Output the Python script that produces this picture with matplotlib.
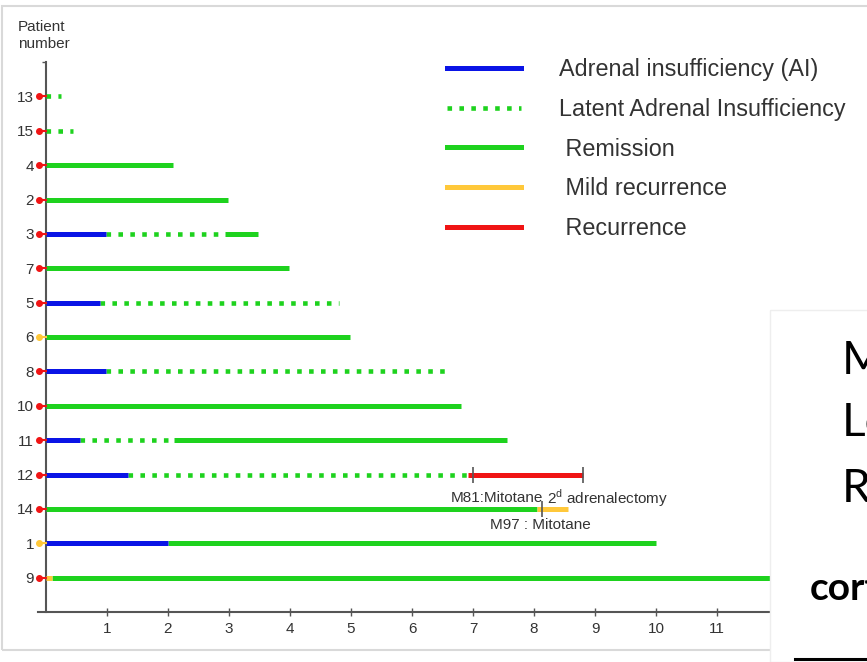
import matplotlib.pyplot as plt
from matplotlib.lines import Line2D
from matplotlib.patches import Rectangle

plt.rcParams['font.family'] = ['Liberation Sans', 'DejaVu Sans']

# patients, bottom row first
patients = ["9", "1", "14", "12", "11", "10", "8", "6", "5", "7", "3", "2", "4", "15", "13"]
start_state = ["red", "yellow", "red", "red", "red", "red", "red", "yellow",
               "red", "red", "red", "red", "red", "red", "red"]

# (patient, start, end) in years of follow-up
ai = [("1", 0, 2.0), ("12", 0, 1.35), ("11", 0, 0.56), ("8", 0, 0.98),
      ("5", 0, 0.88), ("3", 0, 0.98)]
latent = [("13", 0, 0.25), ("15", 0, 0.45), ("3", 0.98, 2.82), ("5", 0.88, 4.8),
          ("8", 0.98, 6.62), ("11", 0.56, 2.0), ("12", 1.35, 6.92)]
remission = [("4", 0, 2.08), ("2", 0, 2.98), ("3", 2.93, 3.48), ("7", 0, 3.98),
             ("6", 0, 4.98), ("10", 0, 6.8), ("11", 2.1, 7.56), ("14", 0, 8.05),
             ("1", 2.0, 10.0), ("9", 0.1, 12.5)]
mild = [("14", 8.05, 8.56), ("9", 0, 0.1)]
recurrence = [("12", 6.92, 8.8)]

# treatment marks and their notes
events = [("12", 7.0), ("12", 8.8), ("14", 8.13)]
notes = [("M81:Mitotane", 6.63, 3.31), ("2$^{\\mathregular{d}}$ adrenalectomy", 8.21, 3.31),
         ("M97 : Mitotane", 7.28, 2.53)]

legend_labels = ["Adrenal insufficiency (AI)", "Latent Adrenal Insufficiency",
                 " Remission", " Mild recurrence", " Recurrence"]

BLUE = "#0a14e6"
GREEN = "#1ed21e"
YELLOW = "#ffc83a"
RED = "#f01414"
colors = {"red": RED, "yellow": YELLOW}
dotted = (0, (1, 1.6))

W, H = 867, 662
fig = plt.figure(figsize=(W / 100, H / 100), dpi=100)
fig.patch.set_facecolor("white")

# light frame of the screenshot panel
fig.add_artist(Rectangle((2 / W, 1 - 650 / H), 2, (650 - 6) / H, transform=fig.transFigure,
                         fill=False, edgecolor="#d9d9d9", lw=1.5, zorder=-1))

ax = fig.add_axes([38 / W, 50 / H, (W - 38) / W, 550 / H])
ax.set_facecolor("none")
ax.set_xlim(-8 / 61, (W - 46) / 61)
ax.set_ylim(0, 16)

row = {p: i + 1 for i, p in enumerate(patients)}

def draw(segs, color, ls="-", lw=3.6):
    for p, s, e in segs:
        ax.plot([s, e], [row[p], row[p]], color=color, lw=lw, linestyle=ls,
                solid_capstyle="butt", dash_capstyle="butt", zorder=3)

draw(remission, GREEN)
draw(latent, GREEN, ls=dotted, lw=3.3)
draw(ai, BLUE)
draw(mild, YELLOW)
draw(recurrence, RED)

for p, st in zip(patients, start_state):
    c = colors[st]
    ax.plot([-0.115, 0], [row[p], row[p]], color=c, lw=1.5, clip_on=False, zorder=4)
    ax.plot(-0.115, row[p], "o", ms=4, color=c, clip_on=False, zorder=4)

for p, x in events:
    ax.plot(x, row[p], marker="|", ms=12, mew=1.2, color="#555555", zorder=5)

for txt, x, y in notes:
    ax.text(x, y, txt, fontsize=11, color="#333333", va="center", ha="left")

for s in ["top", "right"]:
    ax.spines[s].set_visible(False)
ax.spines["left"].set_position(("data", 0))
for s in ["left", "bottom"]:
    ax.spines[s].set_color("#555555")
    ax.spines[s].set_linewidth(1.5)

ax.set_xticks(range(1, 13))
ax.tick_params(axis="x", direction="inout", length=6, width=1, colors="#555555",
               labelcolor="#333333", labelsize=11, pad=4)
ax.set_yticks(range(1, len(patients) + 1), patients)
ax.tick_params(axis="y", length=0, labelsize=11, labelcolor="#333333", pad=8.6)
ax.set_yticks([16], minor=True)
ax.tick_params(axis="y", which="minor", length=3, width=1, colors="#555555")

fig.text(18 / W, 1 - 20 / H, "Patient\nnumber", fontsize=11, color="#333333",
         va="top", ha="left", linespacing=1.25)

handles = [Line2D([], [], color=BLUE, lw=3.6),
           Line2D([], [], color=GREEN, lw=3.3, linestyle=dotted),
           Line2D([], [], color=GREEN, lw=3.6),
           Line2D([], [], color=YELLOW, lw=3.6),
           Line2D([], [], color=RED, lw=3.6)]
ax.legend(handles, legend_labels, loc="upper left", bbox_to_anchor=(447 / W, 1 - 58 / H),
          bbox_transform=fig.transFigure, frameon=False, fontsize=16.8,
          handlelength=3.15, handletextpad=1.65, labelspacing=0.72, borderpad=0,
          borderaxespad=0, labelcolor="#333333")

# slide overlay covering the lower right corner
fig.add_artist(Rectangle((770 / W, 0), 1, (H - 310) / H, transform=fig.transFigure,
                         facecolor="white", edgecolor="#eeeeee", lw=1, zorder=10))
for txt, base in [("M", 374), ("Lo", 436), ("R", 502)]:
    fig.text(842 / W, 1 - base / H, txt, fontsize=33, family="Lato", color="black",
             va="baseline", ha="left", zorder=11)
fig.text(810 / W, 1 - 600 / H, "cort", fontsize=28, family="Lato", weight="bold",
         color="black", va="baseline", ha="left", zorder=11)
fig.add_artist(Line2D([795 / W, 1], [1 - 659 / H] * 2, transform=fig.transFigure,
                      color="black", lw=2.2, zorder=11))

fig.savefig("out.png", dpi=100)
